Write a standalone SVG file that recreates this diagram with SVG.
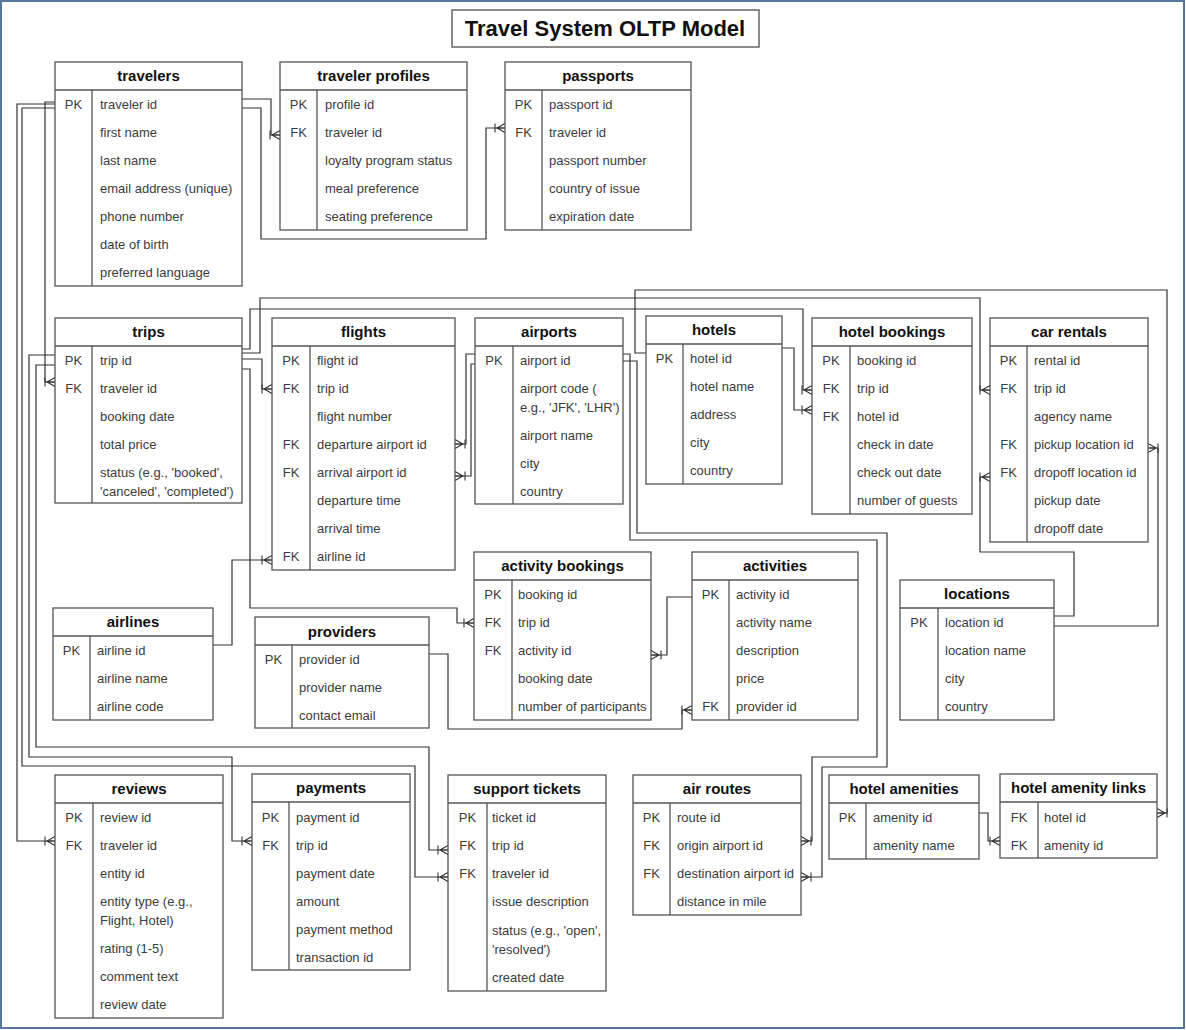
<svg xmlns="http://www.w3.org/2000/svg" width="1186" height="1030" viewBox="0 0 1186 1030">
<defs>
<style>
.box{fill:#fff;stroke:#555;stroke-width:1.3}
.ln{stroke:#555;stroke-width:1.3}
.hd{font-family:"Liberation Sans",Arial,sans-serif;font-weight:bold;font-size:15px;fill:#111;text-anchor:middle}
.k{font-family:"Liberation Sans",Arial,sans-serif;font-size:13px;fill:#3c3c3c;text-anchor:middle}
.f{font-family:"Liberation Sans",Arial,sans-serif;font-size:13px;fill:#3c3c3c}
.conn path{fill:none;stroke:#333;stroke-width:1.2;marker-end:url(#many)}
</style>
<marker id="many" markerUnits="userSpaceOnUse" orient="auto" viewBox="-12 -7 13 14" refX="0" refY="0" markerWidth="13" markerHeight="14">
<path d="M0,-4.5 L-8,0 L0,4.5 M-8,0 L0,0 M-10,-4.5 L-10,4.5" fill="none" stroke="#333" stroke-width="1.1"/>
</marker>
</defs>
<rect x="0" y="0" width="1186" height="1030" fill="#fff"/>
<rect x="1" y="1" width="1183" height="1027" fill="none" stroke="#56779a" stroke-width="2"/>

<g id="title">
<rect x="452" y="10" width="307" height="37" fill="#fff" stroke="#666" stroke-width="1.5"/>
<text x="605" y="36" font-family="Liberation Sans,Arial,sans-serif" font-weight="bold" font-size="22" text-anchor="middle" fill="#111">Travel System OLTP Model</text>
</g>

<g class="conn" id="connectors">
<path d="M242,99 H271 V135 H280"/>
<path d="M242,108 H261 V239 H486 V128 H505"/>
<path d="M55,102 H45 V382 H55"/>
<path d="M55,104 H17 V841 H55"/>
<path d="M55,108 H22 V766 H415 V877 H448"/>
<path d="M242,359 H262 V389 H272"/>
<path d="M242,349 H250 V309 H803 V390 H812"/>
<path d="M242,353 H260 V298 H980 V390 H990"/>
<path d="M242,369 H250 V608 H457 V623 H474"/>
<path d="M55,355 H29 V757 H232 V841 H252"/>
<path d="M55,365 H36 V747 H429 V850 H448"/>
<path d="M475,354 H466 V444 H455"/>
<path d="M475,364 H471 V476 H455"/>
<path d="M623,354 H630 V540 H877 V757 H812 V841 H801"/>
<path d="M623,361 H637 V533 H887 V767 H822 V877 H801"/>
<path d="M213,645 H232 V560 H272"/>
<path d="M782,348 H794 V410 H812"/>
<path d="M646,353 H635 V290 H1167 V813 H1157"/>
<path d="M692,597 H667 V655 H651"/>
<path d="M429,654 H448 V729 H682 V710 H692"/>
<path d="M1054,616 H1074 V552 H980 V477 H990"/>
<path d="M1054,626 H1158 V448 H1148"/>
<path d="M979,813 H988 V841 H1000"/>
</g>

<g id="travelers">
<rect class="box" x="55" y="62" width="187" height="224"/>
<line class="ln" x1="55" y1="90" x2="242" y2="90"/><line class="ln" x1="92" y1="90" x2="92" y2="286"/>
<text class="hd" x="148.5" y="81">travelers</text>
<text class="k" x="73.5" y="108.5">PK</text>
<text class="f" x="100" y="108.5">traveler id</text>
<text class="f" x="100" y="136.5">first name</text>
<text class="f" x="100" y="164.5">last name</text>
<text class="f" x="100" y="192.5">email address (unique)</text>
<text class="f" x="100" y="220.5">phone number</text>
<text class="f" x="100" y="248.5">date of birth</text>
<text class="f" x="100" y="276.5">preferred language</text>
</g>

<g id="traveler-profiles">
<rect class="box" x="280" y="62" width="187" height="168"/>
<line class="ln" x1="280" y1="90" x2="467" y2="90"/><line class="ln" x1="317" y1="90" x2="317" y2="230"/>
<text class="hd" x="373.5" y="81">traveler profiles</text>
<text class="k" x="298.5" y="108.5">PK</text>
<text class="k" x="298.5" y="136.5">FK</text>
<text class="f" x="325" y="108.5">profile id</text>
<text class="f" x="325" y="136.5">traveler id</text>
<text class="f" x="325" y="164.5">loyalty program status</text>
<text class="f" x="325" y="192.5">meal preference</text>
<text class="f" x="325" y="220.5">seating preference</text>
</g>

<g id="passports">
<rect class="box" x="505" y="62" width="186" height="168"/>
<line class="ln" x1="505" y1="90" x2="691" y2="90"/><line class="ln" x1="542" y1="90" x2="542" y2="230"/>
<text class="hd" x="598" y="81">passports</text>
<text class="k" x="523.5" y="108.5">PK</text>
<text class="k" x="523.5" y="136.5">FK</text>
<text class="f" x="549" y="108.5">passport id</text>
<text class="f" x="549" y="136.5">traveler id</text>
<text class="f" x="549" y="164.5">passport number</text>
<text class="f" x="549" y="192.5">country of issue</text>
<text class="f" x="549" y="220.5">expiration date</text>
</g>

<g id="trips">
<rect class="box" x="55" y="318" width="187" height="185"/>
<line class="ln" x1="55" y1="346" x2="242" y2="346"/><line class="ln" x1="92" y1="346" x2="92" y2="503"/>
<text class="hd" x="148.5" y="337">trips</text>
<text class="k" x="73.5" y="364.5">PK</text>
<text class="k" x="73.5" y="392.5">FK</text>
<text class="f" x="100" y="364.5">trip id</text>
<text class="f" x="100" y="392.5">traveler id</text>
<text class="f" x="100" y="420.5">booking date</text>
<text class="f" x="100" y="448.5">total price</text>
<text class="f" x="100" y="477">status (e.g., 'booked',</text>
<text class="f" x="100" y="496">'canceled', 'completed')</text>
</g>

<g id="flights">
<rect class="box" x="272" y="318" width="183" height="252"/>
<line class="ln" x1="272" y1="346" x2="455" y2="346"/><line class="ln" x1="310" y1="346" x2="310" y2="570"/>
<text class="hd" x="363.5" y="337">flights</text>
<text class="k" x="291" y="364.5">PK</text>
<text class="k" x="291" y="392.5">FK</text>
<text class="k" x="291" y="448.5">FK</text>
<text class="k" x="291" y="476.5">FK</text>
<text class="k" x="291" y="560.5">FK</text>
<text class="f" x="317" y="364.5">flight id</text>
<text class="f" x="317" y="392.5">trip id</text>
<text class="f" x="317" y="420.5">flight number</text>
<text class="f" x="317" y="448.5">departure airport id</text>
<text class="f" x="317" y="476.5">arrival airport id</text>
<text class="f" x="317" y="504.5">departure time</text>
<text class="f" x="317" y="532.5">arrival time</text>
<text class="f" x="317" y="560.5">airline id</text>
</g>

<g id="airports">
<rect class="box" x="475" y="318" width="148" height="186"/>
<line class="ln" x1="475" y1="346" x2="623" y2="346"/><line class="ln" x1="513" y1="346" x2="513" y2="504"/>
<text class="hd" x="549" y="337">airports</text>
<text class="k" x="494" y="364.5">PK</text>
<text class="f" x="520" y="364.5">airport id</text>
<text class="f" x="520" y="392.5">airport code (</text>
<text class="f" x="520" y="411.5">e.g., 'JFK', 'LHR')</text>
<text class="f" x="520" y="439.5">airport name</text>
<text class="f" x="520" y="467.5">city</text>
<text class="f" x="520" y="495.5">country</text>
</g>

<g id="hotels">
<rect class="box" x="646" y="316" width="136" height="168"/>
<line class="ln" x1="646" y1="344" x2="782" y2="344"/><line class="ln" x1="683" y1="344" x2="683" y2="484"/>
<text class="hd" x="714" y="335">hotels</text>
<text class="k" x="664.5" y="362.5">PK</text>
<text class="f" x="690" y="362.5">hotel id</text>
<text class="f" x="690" y="390.5">hotel name</text>
<text class="f" x="690" y="418.5">address</text>
<text class="f" x="690" y="446.5">city</text>
<text class="f" x="690" y="474.5">country</text>
</g>

<g id="hotel-bookings">
<rect class="box" x="812" y="318" width="160" height="196"/>
<line class="ln" x1="812" y1="346" x2="972" y2="346"/><line class="ln" x1="850" y1="346" x2="850" y2="514"/>
<text class="hd" x="892" y="337">hotel bookings</text>
<text class="k" x="831" y="364.5">PK</text>
<text class="k" x="831" y="392.5">FK</text>
<text class="k" x="831" y="420.5">FK</text>
<text class="f" x="857" y="364.5">booking id</text>
<text class="f" x="857" y="392.5">trip id</text>
<text class="f" x="857" y="420.5">hotel id</text>
<text class="f" x="857" y="448.5">check in date</text>
<text class="f" x="857" y="476.5">check out date</text>
<text class="f" x="857" y="504.5">number of guests</text>
</g>

<g id="car-rentals">
<rect class="box" x="990" y="318" width="158" height="224"/>
<line class="ln" x1="990" y1="346" x2="1148" y2="346"/><line class="ln" x1="1027" y1="346" x2="1027" y2="542"/>
<text class="hd" x="1069" y="337">car rentals</text>
<text class="k" x="1008.5" y="364.5">PK</text>
<text class="k" x="1008.5" y="392.5">FK</text>
<text class="k" x="1008.5" y="448.5">FK</text>
<text class="k" x="1008.5" y="476.5">FK</text>
<text class="f" x="1034" y="364.5">rental id</text>
<text class="f" x="1034" y="392.5">trip id</text>
<text class="f" x="1034" y="420.5">agency name</text>
<text class="f" x="1034" y="448.5">pickup location id</text>
<text class="f" x="1034" y="476.5">dropoff location id</text>
<text class="f" x="1034" y="504.5">pickup date</text>
<text class="f" x="1034" y="532.5">dropoff date</text>
</g>

<g id="activity-bookings">
<rect class="box" x="474" y="552" width="177" height="168"/>
<line class="ln" x1="474" y1="580" x2="651" y2="580"/><line class="ln" x1="512" y1="580" x2="512" y2="720"/>
<text class="hd" x="562.5" y="571">activity bookings</text>
<text class="k" x="493" y="598.5">PK</text>
<text class="k" x="493" y="626.5">FK</text>
<text class="k" x="493" y="654.5">FK</text>
<text class="f" x="518" y="598.5">booking id</text>
<text class="f" x="518" y="626.5">trip id</text>
<text class="f" x="518" y="654.5">activity id</text>
<text class="f" x="518" y="682.5">booking date</text>
<text class="f" x="518" y="710.5">number of participants</text>
</g>

<g id="activities">
<rect class="box" x="692" y="552" width="166" height="168"/>
<line class="ln" x1="692" y1="580" x2="858" y2="580"/><line class="ln" x1="729" y1="580" x2="729" y2="720"/>
<text class="hd" x="775" y="571">activities</text>
<text class="k" x="710.5" y="598.5">PK</text>
<text class="k" x="710.5" y="710.5">FK</text>
<text class="f" x="736" y="598.5">activity id</text>
<text class="f" x="736" y="626.5">activity name</text>
<text class="f" x="736" y="654.5">description</text>
<text class="f" x="736" y="682.5">price</text>
<text class="f" x="736" y="710.5">provider id</text>
</g>

<g id="locations">
<rect class="box" x="900" y="580" width="154" height="140"/>
<line class="ln" x1="900" y1="608" x2="1054" y2="608"/><line class="ln" x1="938" y1="608" x2="938" y2="720"/>
<text class="hd" x="977" y="599">locations</text>
<text class="k" x="919" y="626.5">PK</text>
<text class="f" x="945" y="626.5">location id</text>
<text class="f" x="945" y="654.5">location name</text>
<text class="f" x="945" y="682.5">city</text>
<text class="f" x="945" y="710.5">country</text>
</g>

<g id="airlines">
<rect class="box" x="53" y="608" width="160" height="112"/>
<line class="ln" x1="53" y1="636" x2="213" y2="636"/><line class="ln" x1="90" y1="636" x2="90" y2="720"/>
<text class="hd" x="133" y="627">airlines</text>
<text class="k" x="71.5" y="654.5">PK</text>
<text class="f" x="97" y="654.5">airline id</text>
<text class="f" x="97" y="682.5">airline name</text>
<text class="f" x="97" y="710.5">airline code</text>
</g>

<g id="providers">
<rect class="box" x="255" y="617" width="174" height="111"/>
<line class="ln" x1="255" y1="645" x2="429" y2="645"/><line class="ln" x1="292" y1="645" x2="292" y2="728"/>
<text class="hd" x="342" y="637">providers</text>
<text class="k" x="273.5" y="663.5">PK</text>
<text class="f" x="299" y="663.5">provider id</text>
<text class="f" x="299" y="691.5">provider name</text>
<text class="f" x="299" y="719.5">contact email</text>
</g>

<g id="reviews">
<rect class="box" x="55" y="775" width="168" height="243"/>
<line class="ln" x1="55" y1="803" x2="223" y2="803"/><line class="ln" x1="93" y1="803" x2="93" y2="1018"/>
<text class="hd" x="139" y="794">reviews</text>
<text class="k" x="74" y="821.5">PK</text>
<text class="k" x="74" y="849.5">FK</text>
<text class="f" x="100" y="821.5">review id</text>
<text class="f" x="100" y="849.5">traveler id</text>
<text class="f" x="100" y="877.5">entity id</text>
<text class="f" x="100" y="906">entity type (e.g.,</text>
<text class="f" x="100" y="925">Flight, Hotel)</text>
<text class="f" x="100" y="953">rating (1-5)</text>
<text class="f" x="100" y="981">comment text</text>
<text class="f" x="100" y="1009">review date</text>
</g>

<g id="payments">
<rect class="box" x="252" y="774" width="158" height="196"/>
<line class="ln" x1="252" y1="802" x2="410" y2="802"/><line class="ln" x1="289" y1="802" x2="289" y2="970"/>
<text class="hd" x="331" y="793">payments</text>
<text class="k" x="270.5" y="821.5">PK</text>
<text class="k" x="270.5" y="849.5">FK</text>
<text class="f" x="296" y="821.5">payment id</text>
<text class="f" x="296" y="849.5">trip id</text>
<text class="f" x="296" y="877.5">payment date</text>
<text class="f" x="296" y="905.5">amount</text>
<text class="f" x="296" y="933.5">payment method</text>
<text class="f" x="296" y="961.5">transaction id</text>
</g>

<g id="support-tickets">
<rect class="box" x="448" y="775" width="158" height="216"/>
<line class="ln" x1="448" y1="803" x2="606" y2="803"/><line class="ln" x1="487" y1="803" x2="487" y2="991"/>
<text class="hd" x="527" y="794">support tickets</text>
<text class="k" x="467.5" y="821.5">PK</text>
<text class="k" x="467.5" y="849.5">FK</text>
<text class="k" x="467.5" y="877.5">FK</text>
<text class="f" x="492" y="821.5">ticket id</text>
<text class="f" x="492" y="849.5">trip id</text>
<text class="f" x="492" y="877.5">traveler id</text>
<text class="f" x="492" y="905.5">issue description</text>
<text class="f" x="492" y="935">status (e.g., 'open',</text>
<text class="f" x="492" y="954">'resolved')</text>
<text class="f" x="492" y="982">created date</text>
</g>

<g id="air-routes">
<rect class="box" x="633" y="775" width="168" height="140"/>
<line class="ln" x1="633" y1="803" x2="801" y2="803"/><line class="ln" x1="670" y1="803" x2="670" y2="915"/>
<text class="hd" x="717" y="794">air routes</text>
<text class="k" x="651.5" y="821.5">PK</text>
<text class="k" x="651.5" y="849.5">FK</text>
<text class="k" x="651.5" y="877.5">FK</text>
<text class="f" x="677" y="821.5">route id</text>
<text class="f" x="677" y="849.5">origin airport id</text>
<text class="f" x="677" y="877.5">destination airport id</text>
<text class="f" x="677" y="905.5">distance in mile</text>
</g>

<g id="hotel-amenities">
<rect class="box" x="829" y="775" width="150" height="84"/>
<line class="ln" x1="829" y1="803" x2="979" y2="803"/><line class="ln" x1="866" y1="803" x2="866" y2="859"/>
<text class="hd" x="904" y="794">hotel amenities</text>
<text class="k" x="847.5" y="821.5">PK</text>
<text class="f" x="873" y="821.5">amenity id</text>
<text class="f" x="873" y="849.5">amenity name</text>
</g>

<g id="hotel-amenity-links">
<rect class="box" x="1000" y="774" width="157" height="84"/>
<line class="ln" x1="1000" y1="802" x2="1157" y2="802"/><line class="ln" x1="1038" y1="802" x2="1038" y2="858"/>
<text class="hd" x="1078.5" y="793">hotel amenity links</text>
<text class="k" x="1019" y="821.5">FK</text>
<text class="k" x="1019" y="849.5">FK</text>
<text class="f" x="1044" y="821.5">hotel id</text>
<text class="f" x="1044" y="849.5">amenity id</text>
</g>
</svg>
